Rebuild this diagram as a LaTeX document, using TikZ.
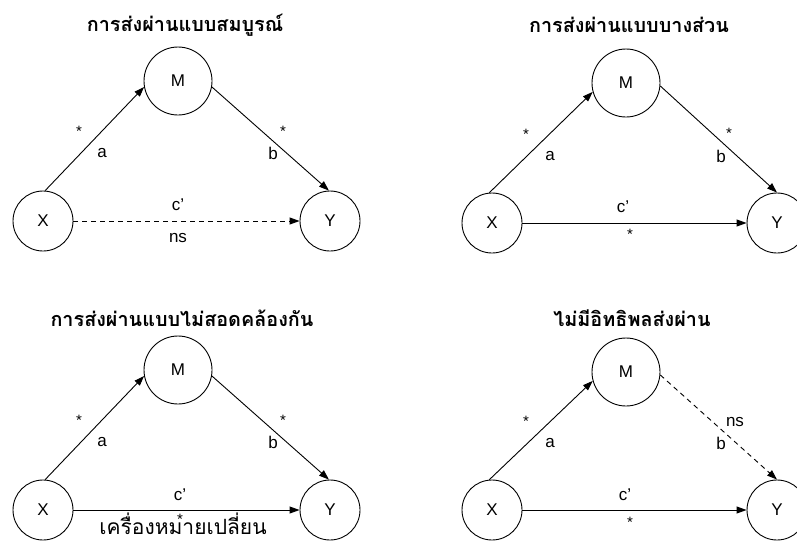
\documentclass[tikz,border=0pt]{standalone}
\usepackage{fontspec}
\setmainfont{Liberation Sans}
\newfontfamily\thaifont[Script=Thai]{Loma}
\usetikzlibrary{arrows.meta}
\begin{document}
\begin{tikzpicture}[x=1pt,y=-1pt,
  circ/.style={draw,circle,line width=0.9pt,inner sep=0pt,minimum size=60pt,font=\fontsize{17}{18}\selectfont},
  med/.style={circ,minimum size=68pt},
  conn/.style={line width=0.9pt,-{Triangle[length=10pt,width=7pt]}},
  dash5/.style={dash pattern=on 5pt off 4pt},
  lbl/.style={inner sep=0pt,font=\fontsize{17}{18}\selectfont},
  star/.style={inner sep=0pt,font=\fontsize{15}{16}\selectfont},
  ttl/.style={inner sep=0pt,font=\thaifont\bfseries\fontsize{19.8}{22}\selectfont},
  note/.style={inner sep=0pt,anchor=base,font=\thaifont\fontsize{21}{22}\selectfont}]
\useasboundingbox (0,0) rectangle (797,541);
% panel 1
\node[ttl] (t1) at (185,25) {การส่งผ่านแบบสมบูรณ์};
\node[med] (M1) at (178,81) {M};
\node[circ] (X1) at (43,221) {X};
\node[circ] (Y1) at (330,221) {Y};
\draw[conn] (X1.86) -- (M1.190);
\draw[conn] (M1.-10) -- (Y1.92);
\draw[conn,dash5] (X1) -- (Y1);
\node[star] (s1a) at (79,131) {*};
\node[lbl] (l1a) at (102,153) {a};
\node[star] (s1b) at (283,131) {*};
\node[lbl] (l1b) at (273,153) {b};
\node[lbl] (l1c) at (178,205) {c'};
\node[lbl] (l1n) at (178,238) {ns};
% panel 2
\node[ttl] (t2) at (629,25) {การส่งผ่านแบบบางส่วน};
\node[med] (M2) at (626,83) {M};
\node[circ] (X2) at (492,223) {X};
\node[circ] (Y2) at (777,223) {Y};
\draw[conn] (X2.95) -- (M2.195);
\draw[conn] (M2.-5) -- (Y2.90);
\draw[conn] (X2) -- (Y2);
\node[star] (s2a) at (526,134) {*};
\node[lbl] (l2a) at (550,156) {a};
\node[star] (s2b) at (729,133) {*};
\node[lbl] (l2b) at (721,156) {b};
\node[lbl] (l2c) at (623,207) {c'};
\node[star] (s2c) at (630,234) {*};
% panel 3
\node[ttl] (t3) at (182,318) {การส่งผ่านแบบไม่สอดคล้องกัน};
\node[med] (M3) at (178,370) {M};
\node[circ] (X3) at (43,510) {X};
\node[circ] (Y3) at (330,510) {Y};
\draw[conn] (X3.86) -- (M3.190);
\draw[conn] (M3.-10) -- (Y3.92);
\draw[conn] (X3) -- (Y3);
\node[star] (s3a) at (79,420) {*};
\node[lbl] (l3a) at (102,442) {a};
\node[star] (s3b) at (283,420) {*};
\node[lbl] (l3b) at (273,442) {b};
\node[lbl] (l3c) at (180,495) {c'};
\node[star] (s3c) at (180,519) {*};
\node[note] (n3) at (183,534) {เครื่องหมายเปลี่ยน};
% panel 4
\node[ttl] (t4) at (632,318) {ไม่มีอิทธิพลส่งผ่าน};
\node[med] (M4) at (626,372) {M};
\node[circ] (X4) at (492,510) {X};
\node[circ] (Y4) at (777,510) {Y};
\draw[conn] (X4.95) -- (M4.195);
\draw[conn,dash5] (M4.-5) -- (Y4.90);
\draw[conn] (X4) -- (Y4);
\node[star] (s4a) at (526,421) {*};
\node[lbl] (l4a) at (550,443) {a};
\node[lbl] (l4n) at (735,422) {ns};
\node[lbl] (l4b) at (721,443) {b};
\node[lbl] (l4c) at (625,495) {c'};
\node[star] (s4c) at (630,522) {*};
\end{tikzpicture}
\end{document}
